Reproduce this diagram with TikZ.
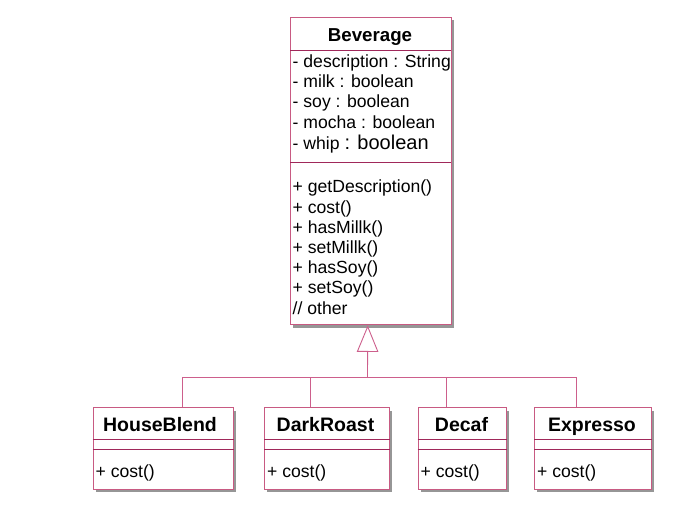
\documentclass[tikz,border=0pt]{standalone}
\usepackage{fontspec}
\setmainfont{Liberation Sans}
\usetikzlibrary{shadows,arrows.meta}
\definecolor{bordercol}{RGB}{200,90,130}
\definecolor{sepcol}{RGB}{160,40,90}
\definecolor{conncol}{RGB}{205,95,140}
\definecolor{shadowcol}{RGB}{150,150,150}
\tikzset{
  umlbox/.style={draw=bordercol, line width=0.9pt, fill=white, inner sep=0pt, anchor=north west,
    drop shadow={shadow xshift=3pt, shadow yshift=-3pt, fill=shadowcol, opacity=1}},
  sepline/.style={draw=sepcol, line width=0.9pt},
  conn/.style={draw=conncol, line width=0.9pt},
  member/.style={inner sep=0pt, anchor=base west, font=\fontsize{17.6}{20}\selectfont},
  ctitle/.style={inner sep=0pt, anchor=base, font=\fontsize{19.5}{22}\selectfont\bfseries},
}
\begin{document}
\begin{tikzpicture}[x=1pt,y=-1pt]
\useasboundingbox (0,0) rectangle (694,510);
% Beverage
\node[umlbox, minimum width=160.5pt, minimum height=307.5pt] (bev) at (290,17) {};
\draw[sepline] ([yshift=-33pt]bev.north west) -- ([yshift=-33pt]bev.north east);
\draw[sepline] ([yshift=-145pt]bev.north west) -- ([yshift=-145pt]bev.north east);
\node[ctitle, font=\fontsize{18.7}{22}\selectfont\bfseries] (bevt) at (370,42) {Beverage};
\node[member] (a1) at (292.5,68) {- description : String};
\node[member] (a2) at (292.5,88) {- milk : boolean};
\node[member] (a3) at (292.5,108) {- soy : boolean};
\node[member] (a4) at (292.5,128.5) {- mocha : boolean};
\node[member] (a5) at (292.5,150) {- whip {\fontsize{20}{22}\selectfont : boolean}};
\node[member] (m1) at (292.5,193) {+ getDescription()};
\node[member] (m2) at (292.5,213.2) {+ cost()};
\node[member] (m3) at (292.5,233.4) {+ hasMillk()};
\node[member] (m4) at (292.5,253.6) {+ setMillk()};
\node[member] (m5) at (292.5,273.8) {+ hasSoy()};
\node[member] (m6) at (292.5,294) {+ setSoy()};
\node[member] (m7) at (292.5,314.2) {// other};
% Subclasses
\node[umlbox, minimum width=140.5pt, minimum height=81.5pt] (hb) at (92.5,407.5) {};
\node[umlbox, minimum width=125pt, minimum height=81.5pt] (dr) at (264,407.5) {};
\node[umlbox, minimum width=88.5pt, minimum height=81.5pt] (dc) at (417.5,407.5) {};
\node[umlbox, minimum width=117pt, minimum height=81.5pt] (ex) at (534,407.5) {};
\foreach \b in {hb,dr,dc,ex}{
  \draw[sepline] ([yshift=-31.5pt]\b.north west) -- ([yshift=-31.5pt]\b.north east);
  \draw[sepline] ([yshift=-41.5pt]\b.north west) -- ([yshift=-41.5pt]\b.north east);
}
\node[ctitle] (hbt) at (160,432) {HouseBlend};
\node[ctitle] (drt) at (325.5,432) {DarkRoast};
\node[ctitle] (dct) at (461.5,432) {Decaf};
\node[ctitle] (ext) at (592,432) {Expresso};
\node[member] (hbm) at (95.5,477.5) {+ cost()};
\node[member] (drm) at (267,477.5) {+ cost()};
\node[member] (dcm) at (420.5,477.5) {+ cost()};
\node[member] (exm) at (537,477.5) {+ cost()};
% Connectors
\coordinate (apex) at ([xshift=-3pt]bev.south);
\coordinate (junc) at (367.5,377);
\draw[conn] ([xshift=19pt]hb.north) |- (junc);
\draw[conn] ([xshift=-16.5pt]dr.north) |- (junc);
\draw[conn] ([xshift=-16pt]dc.north) |- (junc);
\draw[conn] ([xshift=-16.5pt]ex.north) |- (junc);
\draw[conn, -{Triangle[open, length=26.5pt, width=21.5pt, fill=white]}] (junc) -- (apex);
\end{tikzpicture}
\end{document}
